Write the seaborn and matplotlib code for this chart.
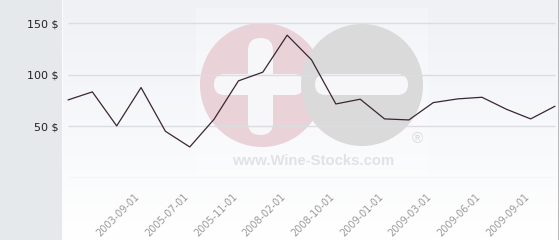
import numpy as np
import matplotlib
matplotlib.use("Agg")
import matplotlib.pyplot as plt
import matplotlib.transforms as mtransforms
from matplotlib.patches import Circle, FancyBboxPatch, Rectangle
import seaborn as sns

# ---- data ----
prices = [75.7, 83.5, 50.5, 87.7, 45.3, 30.1, 57.0, 94.2, 102.6, 138.5, 114.6,
          71.8, 76.4, 57.3, 56.3, 73.1, 76.7, 78.3, 66.7, 57.3, 69.6]
point_index = list(range(len(prices)))
tick_points = [3, 5, 7, 9, 11, 13, 15, 17, 19]
tick_labels = ["2003-09-01", "2005-07-01", "2005-11-01", "2008-02-01", "2008-10-01",
               "2009-01-01", "2009-03-01", "2009-06-01", "2009-09-01"]
y_ticks = [50, 100, 150]
y_tick_labels = ["50 $", "100 $", "150 $"]
grid_levels = [0, 50, 100, 150]
watermark_text = "www.Wine-Stocks.com"

sns.set_theme(style="white")
plt.rcParams['font.family'] = ['DejaVu Sans']

W, H = 560, 240
fig = plt.figure(figsize=(5.6, 2.4), dpi=100)

# ---- background layer (pixel coordinates) ----
bg = fig.add_axes([0, 0, 1, 1])
bg.axis('off')
grad = np.linspace(0, 1, 240)[:, None, None]
top = np.array([0.937, 0.945, 0.962])
bottom = np.array([1.0, 1.0, 1.0])
img = top + (bottom - top) * grad
bg.imshow(img, extent=(63, W, H, 0), aspect='auto', zorder=0, interpolation='bilinear')
bg.add_patch(Rectangle((0, 0), 62, H, color='#e6e9ec', zorder=1, lw=0))
bg.add_patch(Rectangle((62, 0), 1.2, H, color='#fbfbfc', zorder=1, lw=0))
bg.add_patch(Rectangle((557.5, 0), 1.5, H, color='#b9b9bc', zorder=1, lw=0))

# watermark
bg.add_patch(Rectangle((196, 8), 232, 167, color='white', alpha=0.28, zorder=1, lw=0))
pink, grey, hole = '#ead2d9', '#dadadb', '#f7f7f9'
bg.add_patch(Circle((262, 85), 62, color=pink, zorder=2, lw=0))
bg.add_patch(FancyBboxPatch((214, 74), 90, 21, boxstyle="round,pad=0,rounding_size=10.5",
                            color=hole, zorder=2.1, lw=0))
bg.add_patch(FancyBboxPatch((248, 38), 25, 97, boxstyle="round,pad=0,rounding_size=12.5",
                            color=hole, zorder=2.1, lw=0))
bg.add_patch(Circle((362, 85), 61, color=grey, zorder=2.2, lw=0))
bg.add_patch(FancyBboxPatch((315, 74), 93, 21, boxstyle="round,pad=0,rounding_size=10.5",
                            color=hole, zorder=2.3, lw=0))
bg.text(313, 161, watermark_text, ha='center', va='center', fontsize=10.7,
        fontweight='bold', family='Liberation Sans', color='#e2e2e4', zorder=2.4)
bg.text(417, 139, "®", ha='center', va='center', fontsize=11,
        family='Liberation Sans', color='#dadadb', zorder=2.4)
bg.set_xlim(0, W)
bg.set_ylim(H, 0)

# ---- main chart ----
x0_px, step_px = 68.0, 24.35
ax = fig.add_axes([63 / W, (H - 178) / H, (557 - 63) / W, 178 / H])
ax.patch.set_alpha(0)
ax.hlines(grid_levels, 0, len(prices) - 1, color='#dcdde1', lw=1.0, zorder=1)
sns.lineplot(x=point_index, y=prices, ax=ax, color='#3a2631', lw=0.9, zorder=3)
ax.set_xlim((63 - x0_px) / step_px, (557 - x0_px) / step_px)
ax.set_ylim(0, 178 / 1.0313)
for s in ax.spines.values():
    s.set_visible(False)

ax.set_yticks(y_ticks, y_tick_labels)
ax.tick_params(axis='y', length=0, pad=3, labelsize=8, labelcolor='#222222')
ax.set_xticks(tick_points, tick_labels, rotation=45, ha='right', rotation_mode='anchor')
ax.tick_params(axis='x', length=0, pad=10, labelsize=7.0, labelcolor='#9a9a9a')
offset = mtransforms.ScaledTranslation(-6.5 / 100, 0, fig.dpi_scale_trans)
for lab in ax.get_xticklabels():
    lab.set_transform(lab.get_transform() + offset)
ax.set_xlabel('')
ax.set_ylabel('')

fig.savefig("out.png", dpi=100)
